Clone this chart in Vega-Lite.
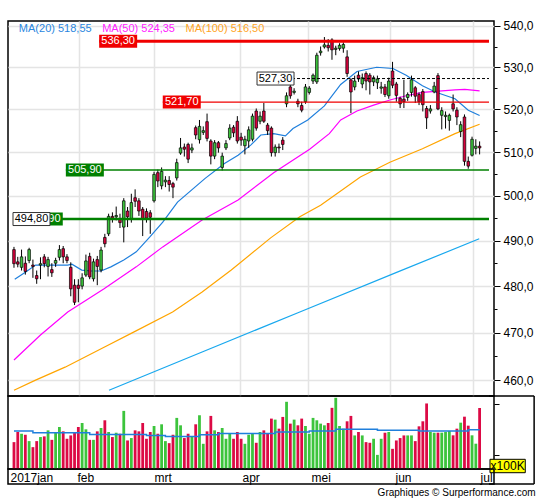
{
  "$schema": "https://vega.github.io/schema/vega-lite/v6.json",
  "background": "white",
  "padding": {"left": 7, "top": 19, "right": 0, "bottom": 0},
  "autosize": {"type": "pad"},
  "config": {
    "view": {"stroke": "#000", "strokeWidth": 1.5},
    "axis": {"labelFont": "Liberation Sans", "labelFontSize": 12, "labelColor": "#000", "tickColor": "#000", "domain": false, "grid": false, "minExtent": 0},
    "axisX": {"labels": false, "ticks": false},
    "text": {"font": "Liberation Sans"},
    "title": {"font": "Liberation Sans"}
  },
  "title": {"text": "Graphiques © Surperformance.com", "orient": "bottom", "anchor": "end", "frame": "bounds", "fontSize": 10, "fontWeight": "normal", "color": "#000", "offset": 3},
  "datasets": {
    "bars": [
      {"i":0,"o":488.0,"h":488.6,"l":484.0,"c":484.9,"v":755},
      {"i":1,"o":485.3,"h":486.4,"l":484.1,"c":484.8,"v":954},
      {"i":2,"o":484.1,"h":488.0,"l":483.4,"c":486.4,"v":920},
      {"i":3,"o":485.0,"h":486.5,"l":482.5,"c":483.2,"v":900},
      {"i":4,"o":485.6,"h":488.4,"l":485.0,"c":488.0,"v":775},
      {"i":5,"o":484.6,"h":485.8,"l":481.8,"c":484.3,"v":656},
      {"i":6,"o":482.3,"h":483.4,"l":480.5,"c":481.6,"v":775},
      {"i":7,"o":484.6,"h":486.3,"l":481.5,"c":484.9,"v":855},
      {"i":8,"o":486.4,"h":487.0,"l":484.1,"c":484.9,"v":868},
      {"i":9,"o":484.3,"h":486.4,"l":482.1,"c":485.8,"v":987},
      {"i":10,"o":483.6,"h":485.0,"l":482.0,"c":482.9,"v":800},
      {"i":11,"o":485.0,"h":486.2,"l":484.2,"c":485.6,"v":940},
      {"i":12,"o":486.3,"h":489.0,"l":485.6,"c":488.0,"v":1053},
      {"i":13,"o":488.2,"h":488.8,"l":485.0,"c":486.4,"v":967},
      {"i":14,"o":486.4,"h":487.0,"l":485.0,"c":485.6,"v":821},
      {"i":15,"o":484.1,"h":485.2,"l":477.8,"c":479.4,"v":887},
      {"i":16,"o":480.2,"h":481.5,"l":475.9,"c":476.5,"v":954},
      {"i":17,"o":480.2,"h":481.5,"l":476.5,"c":479.5,"v":1053},
      {"i":18,"o":480.0,"h":482.8,"l":479.3,"c":481.8,"v":1132},
      {"i":19,"o":482.4,"h":486.9,"l":482.0,"c":485.5,"v":1007},
      {"i":20,"o":486.5,"h":487.3,"l":481.5,"c":482.0,"v":800},
      {"i":21,"o":481.6,"h":486.0,"l":481.0,"c":485.3,"v":800},
      {"i":22,"o":485.8,"h":486.6,"l":480.2,"c":484.3,"v":967},
      {"i":23,"o":483.5,"h":488.6,"l":483.0,"c":487.9,"v":1033},
      {"i":24,"o":490.7,"h":491.5,"l":488.5,"c":489.3,"v":1185},
      {"i":25,"o":491.5,"h":496.0,"l":491.0,"c":495.4,"v":954},
      {"i":26,"o":495.4,"h":496.3,"l":494.0,"c":495.0,"v":855},
      {"i":27,"o":495.3,"h":497.6,"l":494.5,"c":495.6,"v":940},
      {"i":28,"o":494.9,"h":496.0,"l":492.8,"c":494.0,"v":920},
      {"i":29,"o":493.0,"h":499.5,"l":489.6,"c":498.9,"v":1370},
      {"i":30,"o":496.6,"h":497.5,"l":493.0,"c":495.3,"v":788},
      {"i":31,"o":494.8,"h":500.5,"l":494.0,"c":498.5,"v":835},
      {"i":32,"o":499.6,"h":501.5,"l":497.5,"c":498.8,"v":987},
      {"i":33,"o":498.9,"h":499.5,"l":495.5,"c":496.6,"v":967},
      {"i":34,"o":497.0,"h":497.5,"l":491.0,"c":494.8,"v":1132},
      {"i":35,"o":496.5,"h":497.2,"l":494.0,"c":495.0,"v":821},
      {"i":36,"o":496.2,"h":496.8,"l":491.5,"c":495.2,"v":954},
      {"i":37,"o":498.9,"h":505.5,"l":498.5,"c":504.9,"v":1073},
      {"i":38,"o":505.3,"h":506.0,"l":502.0,"c":503.4,"v":920},
      {"i":39,"o":502.3,"h":506.5,"l":501.5,"c":505.6,"v":1106},
      {"i":40,"o":503.2,"h":504.5,"l":502.0,"c":503.6,"v":775},
      {"i":41,"o":503.5,"h":504.5,"l":501.0,"c":502.6,"v":735},
      {"i":42,"o":502.8,"h":503.2,"l":499.5,"c":502.0,"v":900},
      {"i":43,"o":504.1,"h":508.5,"l":503.5,"c":507.6,"v":1232},
      {"i":44,"o":509.8,"h":513.3,"l":509.4,"c":511.0,"v":1086},
      {"i":45,"o":511.2,"h":512.0,"l":509.0,"c":510.7,"v":835},
      {"i":46,"o":511.8,"h":512.2,"l":507.5,"c":508.4,"v":920},
      {"i":47,"o":510.5,"h":512.0,"l":509.8,"c":511.0,"v":868},
      {"i":48,"o":515.7,"h":516.2,"l":513.0,"c":514.0,"v":1106},
      {"i":49,"o":512.9,"h":517.5,"l":512.0,"c":516.0,"v":1284},
      {"i":50,"o":514.6,"h":516.0,"l":514.0,"c":515.0,"v":722},
      {"i":51,"o":517.1,"h":519.0,"l":512.5,"c":513.2,"v":967},
      {"i":52,"o":512.6,"h":513.0,"l":507.2,"c":509.1,"v":1271},
      {"i":53,"o":509.1,"h":512.8,"l":508.4,"c":512.2,"v":987},
      {"i":54,"o":512.2,"h":512.6,"l":509.9,"c":511.0,"v":954},
      {"i":55,"o":506.5,"h":509.9,"l":505.8,"c":509.1,"v":1033},
      {"i":56,"o":511.0,"h":512.8,"l":510.5,"c":512.0,"v":821},
      {"i":57,"o":513.3,"h":516.5,"l":512.8,"c":515.6,"v":920},
      {"i":58,"o":515.8,"h":516.3,"l":513.5,"c":514.5,"v":821},
      {"i":59,"o":517.2,"h":518.4,"l":512.0,"c":512.6,"v":954},
      {"i":60,"o":513.5,"h":514.5,"l":511.5,"c":512.8,"v":821},
      {"i":61,"o":511.5,"h":513.8,"l":509.5,"c":513.0,"v":722},
      {"i":62,"o":512.6,"h":516.0,"l":511.0,"c":515.2,"v":900},
      {"i":63,"o":513.0,"h":519.0,"l":512.5,"c":518.4,"v":920},
      {"i":64,"o":519.6,"h":520.2,"l":515.0,"c":515.6,"v":742},
      {"i":65,"o":517.2,"h":519.5,"l":516.5,"c":518.4,"v":954},
      {"i":66,"o":519.6,"h":521.5,"l":516.8,"c":517.2,"v":987},
      {"i":67,"o":516.3,"h":516.8,"l":514.0,"c":515.0,"v":920},
      {"i":68,"o":515.6,"h":516.0,"l":509.0,"c":509.9,"v":1218},
      {"i":69,"o":509.9,"h":511.8,"l":509.0,"c":511.2,"v":1198},
      {"i":70,"o":511.2,"h":512.0,"l":509.8,"c":511.0,"v":1020},
      {"i":71,"o":512.8,"h":513.5,"l":510.5,"c":511.8,"v":1251},
      {"i":72,"o":521.3,"h":524.0,"l":520.5,"c":523.2,"v":1549},
      {"i":73,"o":525.3,"h":526.5,"l":522.5,"c":523.2,"v":1119},
      {"i":74,"o":524.0,"h":525.0,"l":523.5,"c":524.3,"v":1198},
      {"i":75,"o":521.9,"h":522.5,"l":520.5,"c":521.3,"v":1086},
      {"i":76,"o":520.9,"h":521.8,"l":519.3,"c":519.8,"v":1218},
      {"i":77,"o":521.8,"h":526.0,"l":521.3,"c":525.3,"v":1073},
      {"i":78,"o":524.0,"h":525.5,"l":523.5,"c":525.0,"v":920},
      {"i":79,"o":526.7,"h":528.5,"l":526.0,"c":528.1,"v":1232},
      {"i":80,"o":526.5,"h":533.5,"l":526.0,"c":532.9,"v":1185},
      {"i":81,"o":533.5,"h":535.0,"l":532.8,"c":533.9,"v":1119},
      {"i":82,"o":534.9,"h":537.3,"l":534.5,"c":535.4,"v":1086},
      {"i":83,"o":535.3,"h":536.8,"l":533.8,"c":534.7,"v":1132},
      {"i":84,"o":536.6,"h":537.0,"l":531.8,"c":534.2,"v":1430},
      {"i":85,"o":534.3,"h":535.2,"l":532.9,"c":534.6,"v":1628},
      {"i":86,"o":534.5,"h":535.8,"l":534.0,"c":535.3,"v":1073},
      {"i":87,"o":534.6,"h":536.0,"l":533.5,"c":535.5,"v":1020},
      {"i":88,"o":532.5,"h":534.1,"l":527.7,"c":528.5,"v":1165},
      {"i":89,"o":527.0,"h":527.4,"l":519.1,"c":524.1,"v":1271},
      {"i":90,"o":525.3,"h":528.0,"l":524.5,"c":526.7,"v":887},
      {"i":91,"o":528.1,"h":529.0,"l":526.5,"c":527.2,"v":954},
      {"i":92,"o":526.0,"h":528.5,"l":525.0,"c":527.5,"v":887},
      {"i":93,"o":528.5,"h":529.0,"l":524.5,"c":526.7,"v":755},
      {"i":94,"o":528.1,"h":528.6,"l":523.5,"c":526.5,"v":742},
      {"i":95,"o":526.5,"h":528.0,"l":525.5,"c":527.5,"v":821},
      {"i":96,"o":526.3,"h":528.0,"l":524.8,"c":527.2,"v":504},
      {"i":97,"o":525.0,"h":526.5,"l":523.7,"c":525.3,"v":821},
      {"i":98,"o":525.3,"h":526.0,"l":522.9,"c":523.5,"v":940},
      {"i":99,"o":523.2,"h":527.5,"l":522.5,"c":526.7,"v":954},
      {"i":100,"o":529.1,"h":531.3,"l":525.0,"c":525.7,"v":623},
      {"i":101,"o":526.0,"h":526.5,"l":521.8,"c":523.3,"v":788},
      {"i":102,"o":522.6,"h":523.0,"l":520.3,"c":521.3,"v":835},
      {"i":103,"o":522.4,"h":527.0,"l":520.3,"c":521.8,"v":887},
      {"i":104,"o":522.8,"h":524.0,"l":522.0,"c":523.5,"v":887},
      {"i":105,"o":524.0,"h":528.0,"l":523.0,"c":527.0,"v":887},
      {"i":106,"o":525.1,"h":525.5,"l":521.5,"c":523.1,"v":775},
      {"i":107,"o":523.5,"h":524.0,"l":521.0,"c":521.8,"v":1066},
      {"i":108,"o":524.2,"h":524.8,"l":519.5,"c":521.1,"v":1165},
      {"i":109,"o":520.2,"h":520.8,"l":515.4,"c":518.0,"v":1516},
      {"i":110,"o":519.6,"h":521.0,"l":519.0,"c":520.1,"v":954},
      {"i":111,"o":524.1,"h":526.5,"l":523.8,"c":525.5,"v":940},
      {"i":112,"o":528.0,"h":528.6,"l":519.8,"c":520.1,"v":941},
      {"i":113,"o":518.6,"h":520.5,"l":515.3,"c":519.7,"v":941},
      {"i":114,"o":518.3,"h":519.5,"l":515.5,"c":518.6,"v":955},
      {"i":115,"o":517.4,"h":519.0,"l":515.0,"c":518.6,"v":974},
      {"i":116,"o":521.3,"h":523.5,"l":519.5,"c":520.1,"v":889},
      {"i":117,"o":519.8,"h":520.5,"l":516.3,"c":518.2,"v":1020},
      {"i":118,"o":514.8,"h":517.2,"l":513.5,"c":516.4,"v":1138},
      {"i":119,"o":518.2,"h":518.8,"l":506.9,"c":507.9,"v":1256},
      {"i":120,"o":507.9,"h":509.0,"l":506.2,"c":506.8,"v":1079},
      {"i":121,"o":509.3,"h":513.6,"l":509.0,"c":513.0,"v":889},
      {"i":122,"o":510.9,"h":513.0,"l":509.5,"c":511.4,"v":724},
      {"i":123,"o":511.4,"h":512.5,"l":509.5,"c":511.0,"v":1427}
    ],
    "ma": [
      {"s":"MA20","i":0.2,"p":481.5},{"s":"MA20","i":3.1,"p":483.1},{"s":"MA20","i":5.7,"p":484.6},
      {"s":"MA20","i":14.2,"p":484.6},{"s":"MA20","i":15.3,"p":484.8},{"s":"MA20","i":17.9,"p":483.5},
      {"s":"MA20","i":20.4,"p":483.3},{"s":"MA20","i":23.0,"p":483.3},{"s":"MA20","i":25.6,"p":484.2},
      {"s":"MA20","i":29.0,"p":485.7},{"s":"MA20","i":32.3,"p":487.5},{"s":"MA20","i":35.9,"p":490.8},
      {"s":"MA20","i":39.3,"p":494.1},{"s":"MA20","i":43.2,"p":498.6},{"s":"MA20","i":50.5,"p":504.0},
      {"s":"MA20","i":55.6,"p":507.4},{"s":"MA20","i":59.2,"p":509.3},{"s":"MA20","i":62.6,"p":511.7},
      {"s":"MA20","i":65.2,"p":514.0},{"s":"MA20","i":68.6,"p":514.3},{"s":"MA20","i":71.7,"p":513.8},
      {"s":"MA20","i":73.7,"p":515.5},{"s":"MA20","i":77.6,"p":517.5},{"s":"MA20","i":82.0,"p":520.8},
      {"s":"MA20","i":86.3,"p":525.9},{"s":"MA20","i":90.6,"p":529.0},{"s":"MA20","i":95.8,"p":530.0},
      {"s":"MA20","i":100.1,"p":529.7},{"s":"MA20","i":103.6,"p":528.1},{"s":"MA20","i":107.9,"p":525.6},
      {"s":"MA20","i":111.3,"p":524.1},{"s":"MA20","i":116.5,"p":522.5},{"s":"MA20","i":120.0,"p":519.8},
      {"s":"MA20","i":123.0,"p":518.55},
      {"s":"MA50","i":0,"p":464.2},{"s":"MA50","i":7.0,"p":469.5},{"s":"MA50","i":14.2,"p":474.4},
      {"s":"MA50","i":23.8,"p":479.4},{"s":"MA50","i":32.3,"p":484.2},{"s":"MA50","i":39.3,"p":488.6},
      {"s":"MA50","i":49.7,"p":494.6},{"s":"MA50","i":59.2,"p":499.1},{"s":"MA50","i":68.6,"p":505.3},
      {"s":"MA50","i":78.1,"p":510.7},{"s":"MA50","i":83.3,"p":514.3},{"s":"MA50","i":86.3,"p":517.5},
      {"s":"MA50","i":90.6,"p":519.6},{"s":"MA50","i":95.0,"p":521.0},{"s":"MA50","i":99.3,"p":522.2},
      {"s":"MA50","i":103.6,"p":523.2},{"s":"MA50","i":107.9,"p":524.0},{"s":"MA50","i":112.2,"p":524.3},
      {"s":"MA50","i":116.5,"p":524.6},{"s":"MA50","i":119.1,"p":524.7},{"s":"MA50","i":123.0,"p":524.35},
      {"s":"MA100","i":0,"p":457.9},{"s":"MA100","i":5.7,"p":460.0},{"s":"MA100","i":13.5,"p":462.7},
      {"s":"MA100","i":23.8,"p":466.9},{"s":"MA100","i":31.6,"p":470.1},{"s":"MA100","i":41.9,"p":474.4},
      {"s":"MA100","i":49.7,"p":478.7},{"s":"MA100","i":57.4,"p":483.5},{"s":"MA100","i":67.8,"p":490.6},
      {"s":"MA100","i":75.5,"p":495.3},{"s":"MA100","i":81.0,"p":497.9},{"s":"MA100","i":91.5,"p":504.3},
      {"s":"MA100","i":99.3,"p":507.7},{"s":"MA100","i":107.9,"p":510.8},{"s":"MA100","i":116.5,"p":514.3},
      {"s":"MA100","i":123.0,"p":516.5},
      {"s":"MA200","i":25.1,"p":457.9},{"s":"MA200","i":49.7,"p":465.9},{"s":"MA200","i":75.5,"p":474.4},
      {"s":"MA200","i":101.4,"p":483.1},{"s":"MA200","i":122.9,"p":490.4}
    ],
    "vma": [
      {"i":0,"v":974},{"i":5,"v":940},{"i":20,"v":907},{"i":35,"v":887},{"i":40,"v":868},
      {"i":49,"v":900},{"i":54,"v":927},{"i":69,"v":954},{"i":78,"v":974},{"i":85,"v":1007},
      {"i":96,"v":987},{"i":107,"v":974},{"i":120,"v":1000},{"i":123,"v":1000}
    ],
    "levels": [
      {"lvl":536.3,"from":22.5,"lab":"536,30","kind":"r1"},
      {"lvl":521.7,"from":39.3,"lab":"521,70","kind":"r2"},
      {"lvl":505.9,"from":13.7,"lab":"505,90","kind":"g1"},
      {"lvl":494.8,"from":2.85,"lab":"494,90","kind":"g2"}
    ],
    "tags": [
      {"lvl":527.3,"from":64.2,"lab":"527,30"},
      {"lvl":494.8,"from":-0.26,"lab":"494,80"}
    ]
  },
  "spacing": 0,
  "bounds": "flush",
  "resolve": {"scale": {"x": "independent", "y": "independent"}},
  "vconcat": [
    {
      "width": 486,
      "height": 375,
      "layer": [
        {
          "data": {"name": "ma"},
          "mark": {"type": "line", "strokeWidth": 1.2, "clip": true},
          "encoding": {
            "x": {"field": "i", "type": "quantitative", "title": null,
                  "scale": {"domain": [-0.26, 125.48], "nice": false, "zero": false},
                  "axis": {"grid": true, "values": [17.08, 37.0, 59.77, 77.62, 99.35, 121.35], "gridColor": "#e4e4e4", "gridWidth": 1.5}},
            "y": {"field": "p", "type": "quantitative", "title": null,
                  "scale": {"type": "log", "domain": [456.7, 541.22], "nice": false},
                  "axis": {"orient": "right", "values": [460,465,470,475,480,485,490,495,500,505,510,515,520,525,530,535,540],
                           "labelExpr": "datum.value % 10 === 0 ? replace(format(datum.value, '.1f'), '.', ',') : ''",
                           "tickSize": {"condition": {"test": "datum.value % 10 === 0", "value": 6}, "value": 3},
                           "grid": true,
                           "gridOpacity": {"condition": {"test": "datum.value % 10 === 0", "value": 1}, "value": 0},
                           "gridColor": "#e4e4e4", "gridWidth": 1.5, "labelPadding": 3}},
            "stroke": {"field": "s", "type": "nominal", "legend": null,
                       "scale": {"domain": ["MA20", "MA50", "MA100", "MA200"], "range": ["#1f7fdc", "#ff00ff", "#ffa500", "#18a8ee"]}}
          }
        },
        {
          "data": {"name": "bars"},
          "mark": {"type": "rule", "color": "#000", "strokeWidth": 1},
          "encoding": {
            "x": {"field": "i", "type": "quantitative", "title": null, "scale": {"domain": [-0.26, 125.48], "nice": false, "zero": false}},
            "y": {"field": "l", "type": "quantitative", "title": null, "scale": {"type": "log", "domain": [456.7, 541.22], "nice": false}},
            "y2": {"field": "h"}
          }
        },
        {
          "data": {"name": "bars"},
          "mark": {"type": "bar", "size": 2.6, "stroke": "#000", "strokeWidth": 0.7},
          "encoding": {
            "x": {"field": "i", "type": "quantitative", "title": null, "scale": {"domain": [-0.26, 125.48], "nice": false, "zero": false}},
            "y": {"field": "o", "type": "quantitative", "title": null, "scale": {"type": "log", "domain": [456.7, 541.22], "nice": false}},
            "y2": {"field": "c"},
            "fill": {"condition": {"test": "datum.c >= datum.o", "value": "#3cc43c"}, "value": "#d8003c"}
          }
        },
        {
          "data": {"name": "levels"},
          "mark": {"type": "rule"},
          "encoding": {
            "x": {"field": "from", "type": "quantitative", "title": null, "scale": {"domain": [-0.26, 125.48], "nice": false, "zero": false}},
            "x2": {"datum": 125.48},
            "y": {"field": "lvl", "type": "quantitative", "title": null, "scale": {"type": "log", "domain": [456.7, 541.22], "nice": false}},
            "color": {"field": "kind", "type": "nominal", "legend": null,
                      "scale": {"domain": ["r1", "r2", "g1", "g2"], "range": ["#f00000", "#f00000", "#008000", "#008000"]}},
            "strokeWidth": {"condition": [{"test": "datum.kind === 'r1'", "value": 3}, {"test": "datum.kind === 'g2'", "value": 2.6}], "value": 1.4}
          }
        },
        {
          "data": {"name": "tags"},
          "transform": [{"filter": "datum.lvl > 500"}],
          "mark": {"type": "rule", "color": "#000", "strokeWidth": 1, "strokeDash": [3, 2]},
          "encoding": {
            "x": {"field": "from", "type": "quantitative", "title": null, "scale": {"domain": [-0.26, 125.48], "nice": false, "zero": false}},
            "x2": {"datum": 125.48},
            "y": {"field": "lvl", "type": "quantitative", "title": null, "scale": {"type": "log", "domain": [456.7, 541.22], "nice": false}}
          }
        },
        {
          "data": {"name": "levels"},
          "mark": {"type": "rect", "x2Offset": 38, "yOffset": -6.5, "y2Offset": 6.5},
          "encoding": {
            "x": {"field": "from", "type": "quantitative", "title": null, "scale": {"domain": [-0.26, 125.48], "nice": false, "zero": false}},
            "x2": {"field": "from"},
            "y": {"field": "lvl", "type": "quantitative", "title": null, "scale": {"type": "log", "domain": [456.7, 541.22], "nice": false}},
            "y2": {"field": "lvl"},
            "fill": {"field": "kind", "type": "nominal", "legend": null,
                     "scale": {"domain": ["r1", "r2", "g1", "g2"], "range": ["#f00000", "#f00000", "#008000", "#008000"]}}
          }
        },
        {
          "data": {"name": "levels"},
          "mark": {"type": "text", "dx": 19, "align": "center", "baseline": "middle", "color": "#fff", "fontSize": 11},
          "encoding": {
            "x": {"field": "from", "type": "quantitative", "title": null, "scale": {"domain": [-0.26, 125.48], "nice": false, "zero": false}},
            "y": {"field": "lvl", "type": "quantitative", "title": null, "scale": {"type": "log", "domain": [456.7, 541.22], "nice": false}},
            "text": {"field": "lab"}
          }
        },
        {
          "data": {"name": "tags"},
          "mark": {"type": "rect", "fill": "#fff", "stroke": "#333", "strokeWidth": 1, "x2Offset": 37, "yOffset": -6.5, "y2Offset": 6.5},
          "encoding": {
            "x": {"field": "from", "type": "quantitative", "title": null, "scale": {"domain": [-0.26, 125.48], "nice": false, "zero": false}},
            "x2": {"field": "from"},
            "y": {"field": "lvl", "type": "quantitative", "title": null, "scale": {"type": "log", "domain": [456.7, 541.22], "nice": false}},
            "y2": {"field": "lvl"}
          }
        },
        {
          "data": {"name": "tags"},
          "mark": {"type": "text", "dx": 18.5, "align": "center", "baseline": "middle", "color": "#000", "fontSize": 11},
          "encoding": {
            "x": {"field": "from", "type": "quantitative", "title": null, "scale": {"domain": [-0.26, 125.48], "nice": false, "zero": false}},
            "y": {"field": "lvl", "type": "quantitative", "title": null, "scale": {"type": "log", "domain": [456.7, 541.22], "nice": false}},
            "text": {"field": "lab"}
          }
        },
        {
          "data": {"values": [{}]},
          "mark": {"type": "text", "text": "MA(20)  518,55", "align": "left", "baseline": "middle", "fontSize": 11, "color": "#2a86e0"},
          "encoding": {"x": {"datum": 1.29}, "y": {"datum": 539.3}}
        },
        {
          "data": {"values": [{}]},
          "mark": {"type": "text", "text": "MA(50)  524,35", "align": "left", "baseline": "middle", "fontSize": 11, "color": "#ff22ff"},
          "encoding": {"x": {"datum": 23.3}, "y": {"datum": 539.3}}
        },
        {
          "data": {"values": [{}]},
          "mark": {"type": "text", "text": "MA(100)  516,50", "align": "left", "baseline": "middle", "fontSize": 11, "color": "#ffa51f"},
          "encoding": {"x": {"datum": 45.3}, "y": {"datum": 539.3}}
        }
      ]
    },
    {
      "width": 486,
      "height": 73,
      "layer": [
        {
          "data": {"name": "bars"},
          "mark": {"type": "bar", "size": 2.8, "clip": true},
          "encoding": {
            "x": {"field": "i", "type": "quantitative", "title": null, "scale": {"domain": [-0.26, 125.48], "nice": false, "zero": false}},
            "y": {"field": "v", "type": "quantitative", "title": null,
                  "scale": {"domain": [226, 1663], "nice": false, "zero": false},
                  "axis": {"orient": "right", "values": [500, 750, 1000, 1250, 1500],
                           "labelExpr": "datum.value === 1000 ? '1000' : ''", "tickSize": 5, "labelPadding": 3}},
            "fill": {"condition": {"test": "datum.c >= datum.o", "value": "#3cc43c"}, "value": "#dc0a45"}
          }
        },
        {
          "data": {"name": "vma"},
          "mark": {"type": "line", "interpolate": "step-after", "color": "#1f7fdc", "strokeWidth": 1.5},
          "encoding": {
            "x": {"field": "i", "type": "quantitative", "title": null, "scale": {"domain": [-0.26, 125.48], "nice": false, "zero": false}},
            "y": {"field": "v", "type": "quantitative", "title": null, "scale": {"domain": [226, 1663], "nice": false, "zero": false}}
          }
        },
        {
          "data": {"values": [{}]},
          "mark": {"type": "rect", "fill": "#ffff00", "stroke": "#000", "strokeWidth": 1, "clip": false},
          "encoding": {"x": {"datum": 125.74}, "x2": {"datum": 135.06}, "y": {"datum": 417}, "y2": {"datum": 153}}
        },
        {
          "data": {"values": [{}]},
          "mark": {"type": "text", "text": "x100K", "fontSize": 12, "align": "center", "baseline": "middle", "color": "#000"},
          "encoding": {"x": {"datum": 130.4}, "y": {"datum": 285}}
        },
        {
          "data": {"values": [{}]},
          "mark": {"type": "rule", "color": "#000", "strokeWidth": 1.5, "clip": false},
          "encoding": {"x": {"datum": 137.4}, "y": {"datum": 1663}, "y2": {"datum": -69}}
        },
        {
          "data": {"values": [{}]},
          "mark": {"type": "rule", "color": "#000", "strokeWidth": 1.5, "clip": false},
          "encoding": {"x": {"datum": 125.48}, "x2": {"datum": 137.4}, "y": {"datum": 1663}}
        },
        {
          "data": {"values": [{}]},
          "mark": {"type": "rule", "color": "#000", "strokeWidth": 1.5, "clip": false},
          "encoding": {"x": {"datum": 125.48}, "x2": {"datum": 137.4}, "y": {"datum": -69}}
        }
      ]
    },
    {
      "width": 486,
      "height": 15,
      "data": {"name": "bars"},
      "mark": {"type": "tick", "opacity": 0},
      "encoding": {
        "x": {"field": "i", "type": "quantitative", "title": null,
              "scale": {"domain": [-0.26, 125.48], "nice": false, "zero": false},
              "axis": {"orient": "top", "labels": true, "ticks": false,
                       "values": [-0.26, 17.08, 37.0, 59.77, 77.62, 99.35, 121.35],
                       "labelExpr": "datum.value < 0 ? '2017jan' : datum.value < 20 ? 'feb' : datum.value < 40 ? 'mrt' : datum.value < 60 ? 'apr' : datum.value < 80 ? 'mei' : datum.value < 100 ? 'jun' : 'jul'",
                       "labelAlign": "left", "labelBaseline": "alphabetic", "labelPadding": -12, "labelOffset": 2,
                       "labelFlush": false, "labelOverlap": false, "labelBound": false, "labelFontSize": 12, "maxExtent": 0}}
      }
    }
  ]
}
